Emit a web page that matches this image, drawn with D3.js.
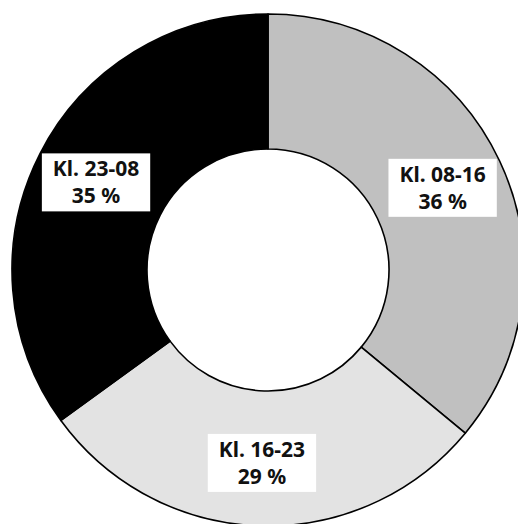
<!DOCTYPE html>
<html>
<head>
<meta charset="utf-8">
<script src="https://cdn.jsdelivr.net/npm/d3@7"></script>
<style>
  html, body { margin: 0; padding: 0; background: #fff; }
  svg { display: block; }
</style>
</head>
<body>
<svg id="chart" width="518" height="524"></svg>
<script>
// Share of activity by time-of-day interval
const categories = ["Kl. 08-16", "Kl. 16-23", "Kl. 23-08"];
const shares = [36, 29, 35];
const colors = ["#c0c0c0", "#e3e3e3", "#000000"];

const svg = d3.select("#chart");
const cx = 268, cy = 270;
const outerR = 256, innerR = 121, labelR = 193;

const data = categories.map((c, i) => ({ name: c, value: shares[i], color: colors[i] }));

const pie = d3.pie().value(d => d.value).sort(null);
const arcs = pie(data);

const arc = d3.arc().innerRadius(innerR).outerRadius(outerR);
const labelArc = d3.arc().innerRadius(labelR).outerRadius(labelR);

const g = svg.append("g").attr("transform", `translate(${cx},${cy})`);

g.selectAll("path.slice")
  .data(arcs)
  .join("path")
  .attr("class", "slice")
  .attr("d", arc)
  .attr("fill", d => d.data.color)
  .attr("stroke", "#000")
  .attr("stroke-width", 1.6)
  .attr("stroke-linejoin", "round");

const labels = g.selectAll("g.label")
  .data(arcs)
  .join("g")
  .attr("class", "label")
  .attr("transform", d => `translate(${labelArc.centroid(d)})`);

labels.each(function(d) {
  const lg = d3.select(this);
  const rect = lg.append("rect").attr("fill", "#fff");
  const t = lg.append("text")
    .attr("text-anchor", "middle")
    .attr("font-family", "'Noto Sans', 'Open Sans', sans-serif")
    .attr("font-weight", "bold")
    .attr("font-size", 21)
    .attr("fill", "#111");
  t.append("tspan").attr("x", 0).attr("y", -6).text(d.data.name);
  t.append("tspan").attr("x", 0).attr("y", 21).text(d.data.value + " %");
  const bb = t.node().getBBox();
  const padX = 11;
  rect.attr("x", bb.x - padX).attr("y", -29)
      .attr("width", bb.width + 2 * padX).attr("height", 58);
});
</script>
</body>
</html>
